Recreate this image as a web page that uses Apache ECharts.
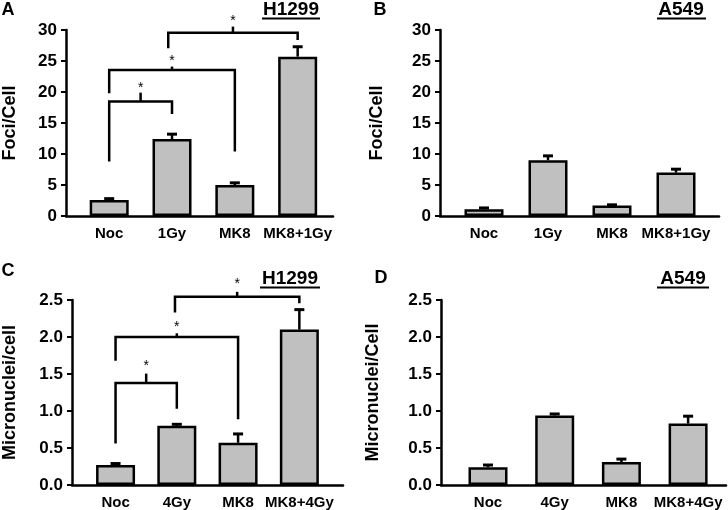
<!DOCTYPE html>
<html>
<head>
<meta charset="utf-8">
<script src="https://cdn.jsdelivr.net/npm/echarts@6/dist/echarts.min.js"></script>
<style>
  html, body { margin: 0; padding: 0; background: #fff; }
  #main { width: 728px; height: 510px; }
</style>
</head>
<body>
<div id="main"></div>
<script>
// categories
var catsFoci = ["Noc", "1Gy", "MK8", "MK8+1Gy"];
var catsMicro = ["Noc", "4Gy", "MK8", "MK8+4Gy"];

// y axis ticks
var fociTicks = { min: 0, max: 30, interval: 5 };
var microTicks = { min: 0, max: 2.5, interval: 0.5 };

// values (mean) and error (SEM)
var fociH1299 = [2.6, 12.4, 5.0, 25.7];
var fociH1299Err = [0.2, 0.8, 0.35, 1.6];
var fociA549 = [1.1, 9.0, 1.7, 7.0];
var fociA549Err = [0.2, 0.7, 0.1, 0.55];
var microH1299 = [0.27, 0.80, 0.57, 2.10];
var microH1299Err = [0.02, 0.02, 0.12, 0.27];
var microA549 = [0.24, 0.94, 0.31, 0.83];
var microA549Err = [0.03, 0.02, 0.04, 0.10];

// significance brackets: [x1, x2, level, leftFoot, rightFoot, tickTop, star]
var fociH1299Sig = [
  [0, 1, 18.45, 8.8, 16.45, 19.9, 21.1],
  [0, 2, 23.55, 19.8, 10.4, 24.1, 25.4],
  [0.94, 3, 29.55, 27.05, 28.4, 30.55, 31.9]
];
var microH1299Sig = [
  [0, 1, 1.38, 0.56, 1.03, 1.505, 1.64],
  [0, 2, 2.0, 1.68, 0.89, 2.05, 2.18],
  [0.97, 3, 2.545, 2.33, 2.455, 2.61, 2.76]
];

var FONT = 'Arial, "Liberation Sans", sans-serif';

var chart = echarts.init(document.getElementById("main"));

// panel layout: grid box, px offset of first bar from the y axis, px between bars
var panels = [
  { left: 61, top: 30, width: 272, height: 186, first: 44, step: 64, nameGap: 47,
    cats: catsFoci, ticks: fociTicks, name: "Foci/Cell", vals: fociH1299, errs: fociH1299Err, sig: fociH1299Sig, dec: 0 },
  { left: 440, top: 30, width: 279, height: 186, first: 44, step: 64, nameGap: 54,
    cats: catsFoci, ticks: fociTicks, name: "Foci/Cell", vals: fociA549, errs: fociA549Err, sig: null, dec: 0 },
  { left: 63, top: 300, width: 280, height: 186, first: 45, step: 63.3, nameGap: 53,
    cats: catsMicro, ticks: microTicks, name: "Micronuclei/cell", vals: microH1299, errs: microH1299Err, sig: microH1299Sig, dec: 1 },
  { left: 441, top: 300, width: 285, height: 186, first: 47, step: 66.7, nameGap: 59,
    cats: catsMicro, ticks: microTicks, name: "Micronuclei/Cell", vals: microA549, errs: microA549Err, sig: null, dec: 1 }
];

var grids = [], xAxes = [], yAxes = [], series = [];

panels.forEach(function (p, i) {
  grids.push({ left: p.left, top: p.top, width: p.width, height: p.height });

  xAxes.push({
    gridIndex: i,
    type: "value",
    min: -p.first / p.step,
    max: (p.width - p.first) / p.step,
    splitLine: { show: false },
    axisTick: { show: false },
    axisLine: { onZero: false, lineStyle: { color: "#000", width: 2.5 } },
    axisLabel: {
      customValues: [0, 1, 2, 3],
      formatter: function (v) { return p.cats[Math.round(v)]; },
      color: "#000",
      fontWeight: "bold",
      fontSize: 15,
      fontFamily: FONT,
      margin: 10
    }
  });

  yAxes.push({
    gridIndex: i,
    type: "value",
    min: p.ticks.min,
    max: p.ticks.max,
    interval: p.ticks.interval,
    name: p.name,
    nameLocation: "middle",
    nameGap: p.nameGap,
    nameRotate: 90,
    nameTextStyle: { color: "#000", fontWeight: "bold", fontSize: 18, fontFamily: FONT },
    splitLine: { show: false },
    axisLine: { show: true, onZero: false, lineStyle: { color: "#000", width: 2.5 } },
    axisTick: { show: true, length: 5, lineStyle: { color: "#000", width: 2 } },
    axisLabel: {
      color: "#000",
      fontWeight: "bold",
      fontSize: 17,
      fontFamily: FONT,
      margin: 9,
      formatter: function (v) { return v.toFixed(p.dec); }
    }
  });

  series.push({
    type: "bar",
    xAxisIndex: i,
    yAxisIndex: i,
    barWidth: 39,
    itemStyle: { color: "#c0c0c0", borderColor: "#000", borderWidth: 2.5 },
    data: p.vals.map(function (v, k) { return [k, v]; })
  });

  // error bars (upper only)
  series.push({
    type: "custom",
    xAxisIndex: i,
    yAxisIndex: i,
    z: 3,
    renderItem: function (params, api) {
      var x = api.value(0);
      var top = api.coord([x, api.value(1)]);
      var end = api.coord([x, api.value(1) + api.value(2)]);
      return {
        type: "group",
        children: [
          { type: "line", shape: { x1: top[0], y1: top[1], x2: end[0], y2: end[1] },
            style: { stroke: "#000", lineWidth: 2.5 } },
          { type: "line", shape: { x1: end[0] - 5, y1: end[1], x2: end[0] + 5, y2: end[1] },
            style: { stroke: "#000", lineWidth: 3 } }
        ]
      };
    },
    data: p.vals.map(function (v, k) { return [k, v, p.errs[k]]; })
  });

  if (p.sig) {
    series.push({
      type: "custom",
      xAxisIndex: i,
      yAxisIndex: i,
      clip: false,
      z: 4,
      renderItem: function (params, api) {
        var x1 = api.value(0), x2 = api.value(1), lv = api.value(2);
        var mid = (x1 + x2) / 2;
        var a = api.coord([x1, api.value(3)]);
        var b = api.coord([x1, lv]);
        var c = api.coord([x2, lv]);
        var d = api.coord([x2, api.value(4)]);
        var m1 = api.coord([mid, lv]);
        var m2 = api.coord([mid, api.value(5)]);
        var s = api.coord([mid, api.value(6)]);
        return {
          type: "group",
          children: [
            { type: "polyline", shape: { points: [a, b, c, d] },
              style: { stroke: "#000", lineWidth: 2.5, fill: null } },
            { type: "line", shape: { x1: m1[0], y1: m1[1], x2: m2[0], y2: m2[1] },
              style: { stroke: "#000", lineWidth: 2.5 } },
            { type: "text", x: s[0], y: s[1] + 3,
              style: { text: "*", fill: "#000", font: "14px " + FONT, align: "center", verticalAlign: "middle" } }
          ]
        };
      },
      data: p.sig
    });
  }
});

function label(txt, x, y, size) {
  return { type: "text", x: x, y: y,
    style: { text: txt, fill: "#000", font: "bold " + size + "px " + FONT, align: "center", verticalAlign: "middle" } };
}
function underline(x1, x2, y) {
  return { type: "line", shape: { x1: x1, y1: y, x2: x2, y2: y }, style: { stroke: "#000", lineWidth: 2 } };
}

chart.setOption({
  backgroundColor: "#fff",
  animation: false,
  grid: grids,
  xAxis: xAxes,
  yAxis: yAxes,
  series: series,
  graphic: [
    label("A", 8, 10, 18),
    label("B", 380, 10, 18),
    label("C", 8, 271, 18),
    label("D", 381, 278, 18),
    label("H1299", 291, 10, 19),
    underline(262, 320, 18.5),
    label("A549", 681, 10, 19),
    underline(657, 706, 18.5),
    label("H1299", 290, 279, 19),
    underline(260, 320, 287.5),
    label("A549", 683, 279, 19),
    underline(657, 709, 287.5)
  ]
});
</script>
</body>
</html>
